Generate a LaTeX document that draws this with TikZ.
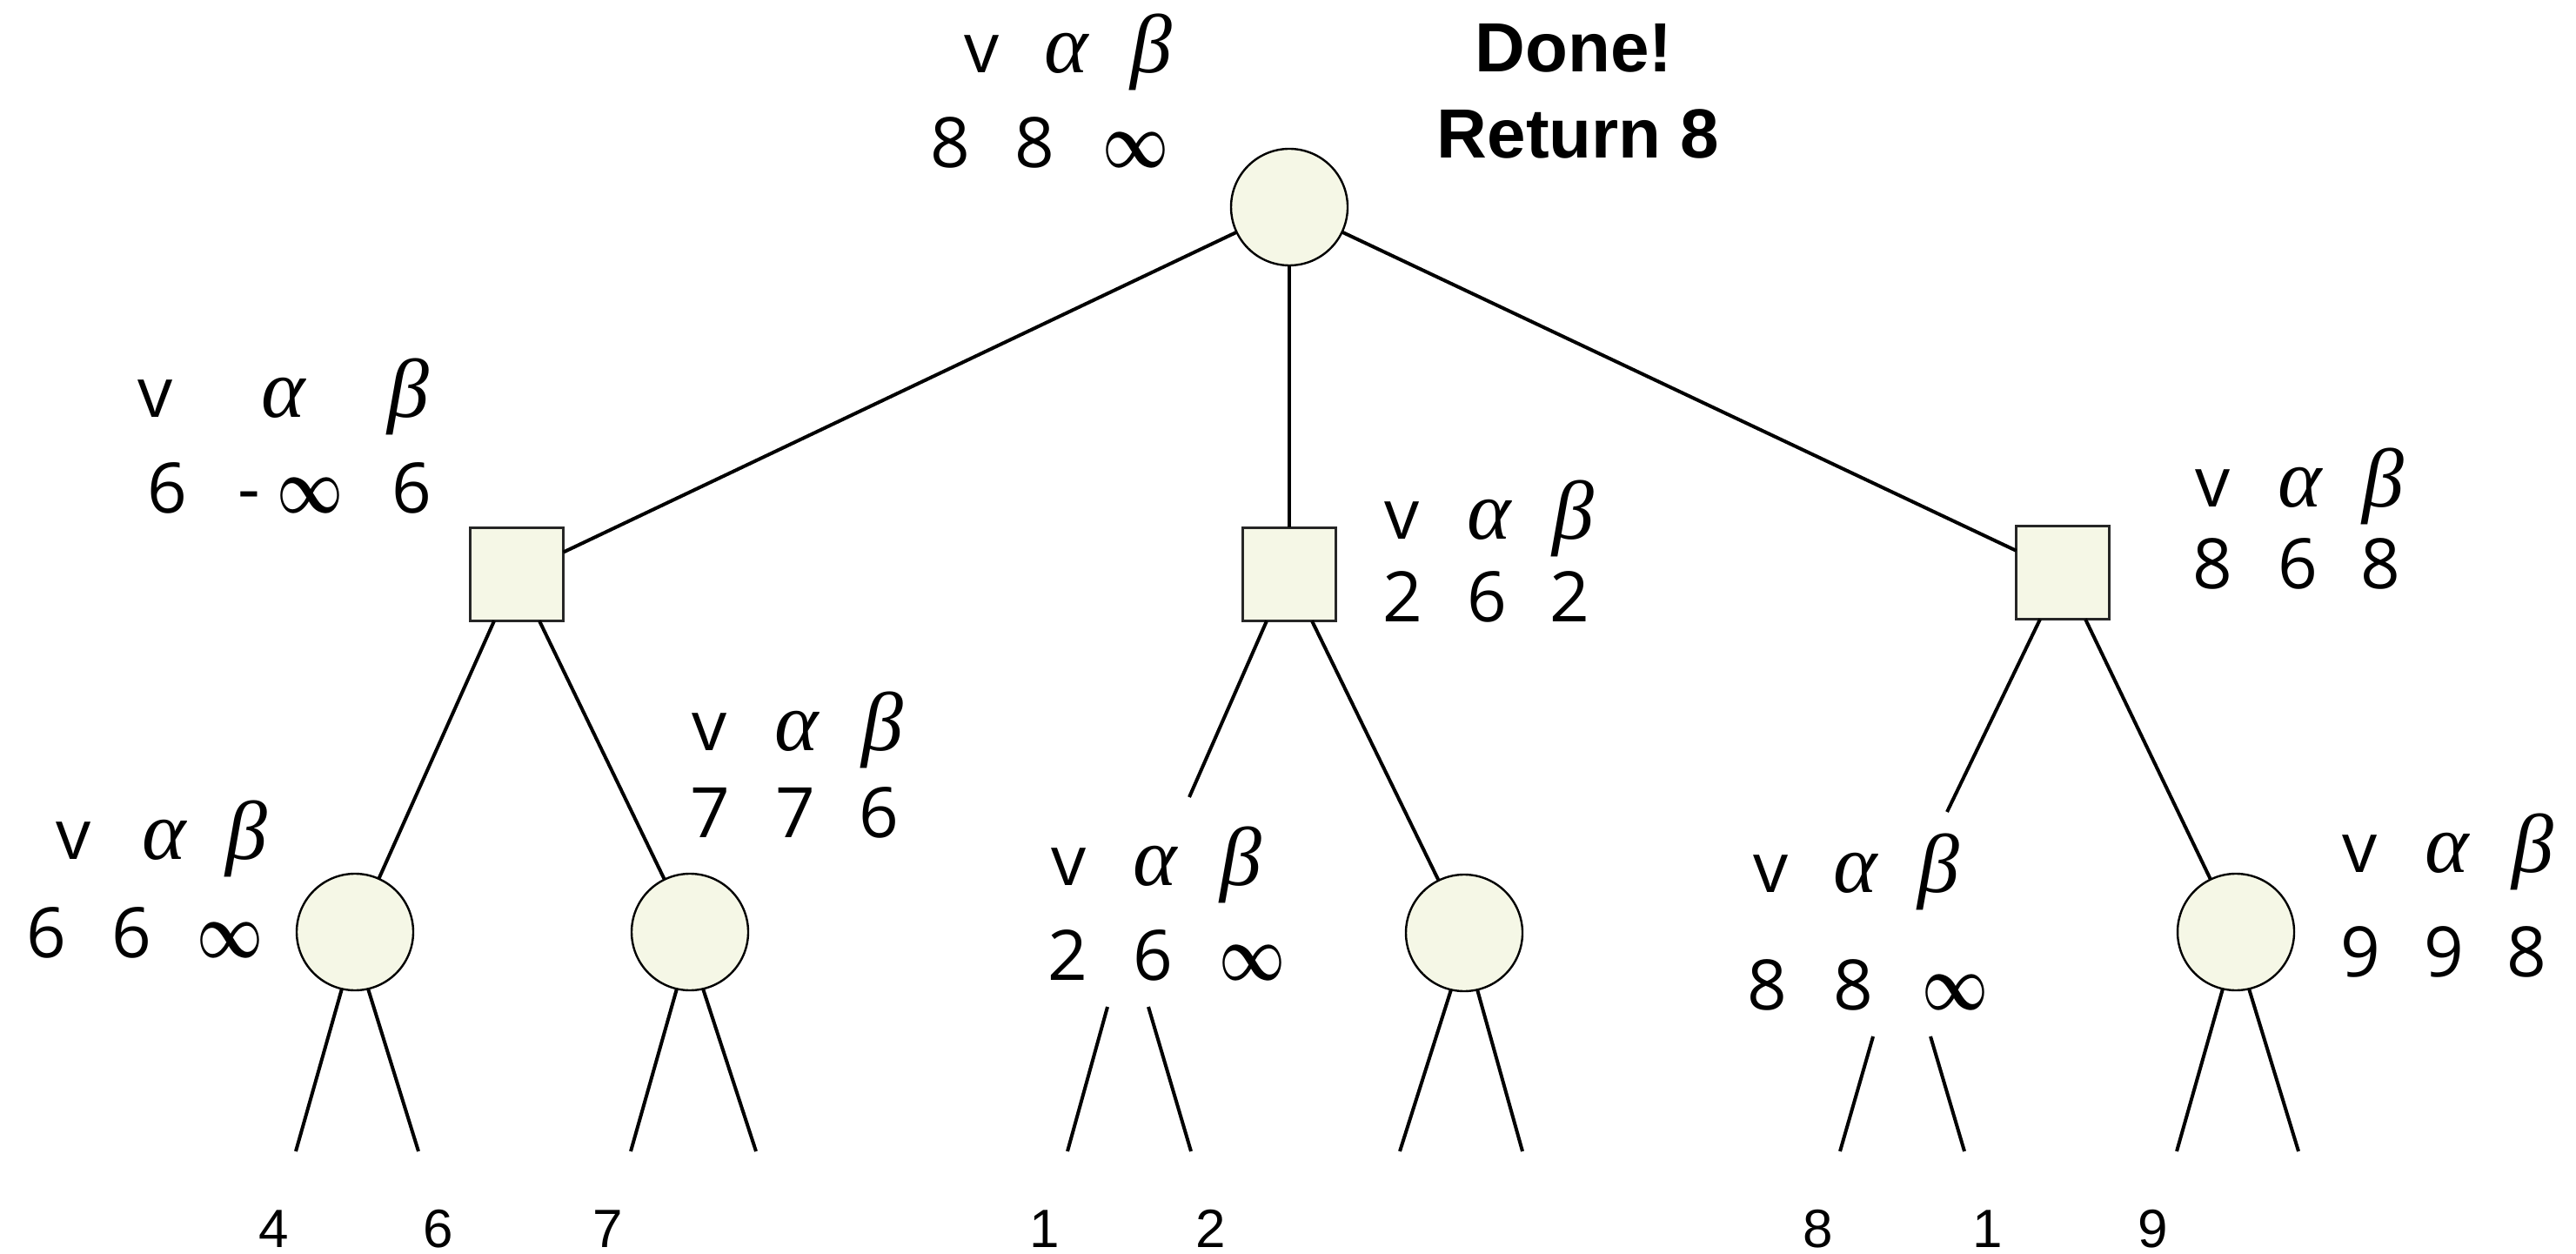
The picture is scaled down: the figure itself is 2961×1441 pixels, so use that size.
\documentclass[tikz,border=0pt]{standalone}
\usepackage{graphicx}
\usepackage{fontspec}
\setmainfont{Open Sans}
\newfontfamily\greekfont{Liberation Serif}
\newfontfamily\helvfont{Liberation Sans}
\definecolor{nodefill}{RGB}{245,247,230}

% header row: v alpha beta
\newcommand\hdrrow[5]{%
  \node[vtxt] (#1v) at (#2,#5) {v};
  \node[gtxt] (#1a) at (#3,#5) {α};
  \node[gtxt] (#1b) at (#4,#5) {β};}
% value row: three entries on one baseline
\newcommand\valrow[8]{%
  \node[vtxt] (#1x) at (#2,#5) {#6};
  \node[vtxt] (#1y) at (#3,#5) {#7};
  \node[vtxt] (#1z) at (#4,#5) {#8};}
\newcommand\infsym{\resizebox{19pt}{10pt}{\boldmath$\infty$}}

\begin{document}
\begin{tikzpicture}[x=0.25pt,y=-0.25pt,
  every node/.style={inner sep=0pt,outer sep=0pt},
  maxnode/.style={circle,draw,line width=0.6pt,fill=nodefill,minimum size=33.5pt},
  minnode/.style={rectangle,draw=black!85,line width=0.6pt,fill=nodefill,minimum size=26.75pt},
  treeline/.style={line width=1pt},
  vtxt/.style={font=\fontsize{20}{24}\selectfont,anchor=base},
  gtxt/.style={font=\greekfont\itshape\fontsize{24}{28}\selectfont,anchor=base},
  leaftxt/.style={font=\helvfont\fontsize{15.5}{18}\selectfont,anchor=base},
  donetxt/.style={font=\helvfont\bfseries\fontsize{20}{24}\selectfont,anchor=base}]
\useasboundingbox (0,0) rectangle (2961,1441);

% tree nodes
\node[maxnode] (root) at (1482,238) {};
\node[minnode] (LS) at (594,660) {};
\node[minnode] (MS) at (1482,660) {};
\node[minnode] (RS) at (2371,658) {};
\node[maxnode] (LL) at (408,1071) {};
\node[maxnode] (LR) at (793,1071) {};
\node[maxnode] (MR) at (1683,1072) {};
\node[maxnode] (RR) at (2570,1071) {};

% level 1 connectors
\draw[treeline] (root) -- (LS);
\draw[treeline] (root) -- (MS);
\draw[treeline] (root) -- (RS);

% level 2 connectors, leaving the square bottoms
\path (LS.south) ++(-26,0) coordinate (LSl) (LS.south) ++(26,0) coordinate (LSr);
\path (MS.south) ++(-26,0) coordinate (MSl) (MS.south) ++(26,0) coordinate (MSr);
\path (RS.south) ++(-26,0) coordinate (RSl) (RS.south) ++(26,0) coordinate (RSr);
\coordinate (MLend) at (1367,916);
\coordinate (RLend) at (2238,933);
\draw[treeline] (LSl) -- (LL);
\draw[treeline] (LSr) -- (LR);
\draw[treeline] (MSl) -- (MLend);
\draw[treeline] (MSr) -- (MR);
\draw[treeline] (RSl) -- (RLend);
\draw[treeline] (RSr) -- (RR);

% leaf connectors
\foreach \n/\a/\b in {LL/340/481, LR/725/869, MR/1609/1750, RR/2502/2642}{
  \coordinate (\n la) at (\a,1323);
  \coordinate (\n lb) at (\b,1323);
  \draw[treeline] (\n.257) -- (\n la);
  \draw[treeline] (\n.283) -- (\n lb);
}
\coordinate (MLs1) at (1273,1157); \coordinate (MLe1) at (1227,1323);
\coordinate (MLs2) at (1320,1157); \coordinate (MLe2) at (1369,1323);
\coordinate (RLs1) at (2153,1191); \coordinate (RLe1) at (2115,1323);
\coordinate (RLs2) at (2219,1191); \coordinate (RLe2) at (2258,1323);
\draw[treeline] (MLs1) -- (MLe1);
\draw[treeline] (MLs2) -- (MLe2);
\draw[treeline] (RLs1) -- (RLe1);
\draw[treeline] (RLs2) -- (RLe2);

% leaf values
\node[leaftxt] (leafA) at (315,1433) {4};
\node[leaftxt] (leafB) at (504,1433) {6};
\node[leaftxt] (leafC) at (699,1433) {7};
\node[leaftxt] (leafD) at (1201,1433) {1};
\node[leaftxt] (leafE) at (1392,1433) {2};
\node[leaftxt] (leafF) at (2090,1433) {8};
\node[leaftxt] (leafG) at (2285,1433) {1};
\node[leaftxt] (leafH) at (2475,1433) {9};

% v / alpha / beta annotations
\hdrrow{rt}{1129}{1226}{1323}{84}
\valrow{rt}{1092}{1189}{1305}{193}{8}{8}{\infsym}

\hdrrow{ls}{179}{326}{469}{480}
\node[vtxt] (lsx) at (192,590) {6};
\node[vtxt] (lsm) at (286,590) {-};
\node[vtxt] (lsy) at (356,590) {\infsym};
\node[vtxt] (lsz) at (473,590) {6};

\hdrrow{ms}{1612}{1712}{1808}{620}
\valrow{ms}{1612}{1709}{1804}{715}{2}{6}{2}

\hdrrow{rs}{2543}{2644}{2739}{583}
\valrow{rs}{2543}{2641}{2736}{677}{8}{6}{8}

\hdrrow{ll}{85}{189}{283}{987}
\valrow{ll}{53}{151}{264}{1100}{6}{6}{\infsym}

\hdrrow{lr}{816}{916}{1014}{862}
\valrow{lr}{816}{914}{1010}{962}{7}{7}{6}

\hdrrow{ml}{1229}{1328}{1426}{1017}
\valrow{ml}{1227}{1325}{1439}{1126}{2}{6}{\infsym}

\hdrrow{rl}{2035}{2133}{2228}{1025}
\valrow{rl}{2031}{2130}{2247}{1160}{8}{8}{\infsym}

\hdrrow{rr}{2712}{2813}{2911}{1002}
\valrow{rr}{2713}{2809}{2904}{1122}{9}{9}{8}

% result note
\node[donetxt] (done) at (1809,83) {Done!};
\node[donetxt] (ret) at (1814,182) {Return 8};
\end{tikzpicture}
\end{document}
